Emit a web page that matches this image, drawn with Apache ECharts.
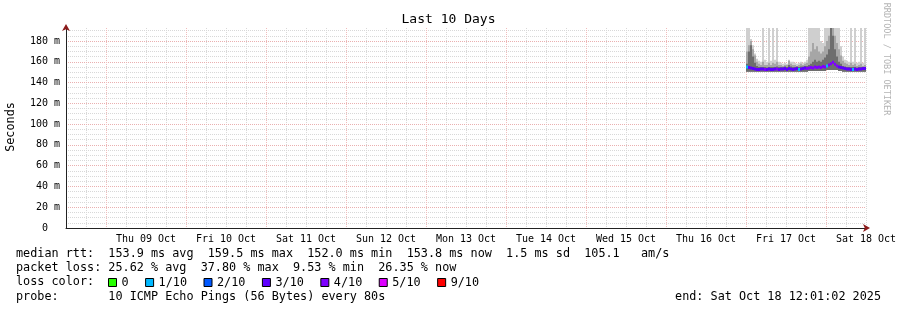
<!DOCTYPE html>
<html><head><meta charset="utf-8">
<script src="https://cdn.jsdelivr.net/npm/echarts@6/dist/echarts.min.js"></script>
<style>html,body{margin:0;padding:0;background:#fff}#c{width:897px;height:310px}</style>
</head><body><div id="c"></div>
<script>
// hours since Wed 08 Oct 12:00 (start of the 10-day window)
const hours = [204,204.6,205.2,205.8,206.4,207,207.6,208.2,208.8,209.4,210,210.6,211.2,211.8,212.4,213,213.6,214.2,214.8,215.4,216,216.6,217.2,217.8,218.4,219,219.6,220.2,220.8,221.4,222,222.6,223.2,223.8,224.4,225,225.6,226.2,226.8,227.4,228,228.6,229.2,229.8,230.4,231,231.6,232.2,232.8,233.4,234,234.6,235.2,235.8,236.4,237,237.6,238.2,238.8,239.4];
const STEP = 0.6;
// median rtt (ms)
const median = [155,154.5,154,153.5,153,152.5,152.5,153,153,152.5,152.5,153,152.5,152.5,153,153,152.5,153,153,153.5,152.5,153.5,153,152.5,153,153.5,152.5,153,153.5,154,153.5,154,154.5,154,155,154.5,155,154.5,155.5,155,156,157,158,159.5,157.5,156,155,154.5,154,153.5,153,153,152.5,152.5,153,152.5,153,153,153.5,153.5];
// packet loss (%)
const lossPct = [10,30,30,25,30,30,25,30,30,35,30,30,25,30,30,35,25,30,30,25,30,30,30,25,30,30,10,30,25,30,35,40,35,40,40,35,40,35,40,40,10,40,35,40,40,35,30,30,30,25,30,30,30,10,30,30,30,25,30,30];
// smoke (ms): bottom, dark top, medium top, light top (values above the axis are clipped)
const smokeMin = [150.5,150.5,150.5,150.5,150.5,150.5,150.5,150.5,150.5,150.5,150.5,150.5,150.5,150.5,150.5,150.5,150.5,150.5,150.5,150.5,150.5,150.5,150.5,150.5,150.5,150.5,150.5,150.5,150.5,150.5,150.5,151,151,151,151,151,151,151,151,151,152,152,152,152,152,152,151,151,150.5,150.5,150.5,150.5,150.5,150.5,150.5,150.5,150.5,150.5,150.5,150.5];
const smokeDark = [158,170,176,165,159,156,155,155,155,155,154.5,155,155,155,155,155.5,155,155,155,155.5,155,157,155.5,155,155,155.5,155,155.5,155.5,156,156,157,158,160,162,160,161,160,162,164,167,172,195,185,172,165,160,158,156,155.5,155,155,155,155,155,154.5,155,155,155,155];
const smokeMid = [170,176,180,172,166,160,158,157,160,157,157,159,157,159,158,160,157,157,156,157,157,161,158,157,157,156,157,158,157,158,159,165,170,178,172,175,170,168,170,175,180,185,192,195,185,178,172,166,161,159,158,157,159,157,158,156,157,158,156,157];
const smokeMax = [260,260,182,176,168,163,161,160,260,162,160,260,161,260,162,260,160,159,158,159,158,162,160,160,159,158,159,160,159,160,162,260,260,260,260,260,260,180,178,260,260,260,260,260,260,260,260,175,165,162,161,160,260,160,260,159,160,260,159,260];

const lossClasses = ['0','1/10','2/10','3/10','4/10','5/10','9/10'];
const lossUpper = [0,1,2,3,4,5,10];
const lossColors = ['#26ff00','#00b8ff','#0059ff','#5e00ff','#7e00ff','#dd00ff','#ff0000'];

const dayLabels = ['Thu 09 Oct','Fri 10 Oct','Sat 11 Oct','Sun 12 Oct','Mon 13 Oct','Tue 14 Oct','Wed 15 Oct','Thu 16 Oct','Fri 17 Oct','Sat 18 Oct'];
const dayLabelHours = [24,48,72,96,120,144,168,192,216,240];
const midnightHours = [12,36,60,84,108,132,156,180,204,228];

const statLine1 = 'median rtt:  153.9 ms avg  159.5 ms max  152.0 ms min  153.8 ms now  1.5 ms sd  105.1   am/s';
const statLine2 = 'packet loss: 25.62 % avg  37.80 % max  9.53 % min  26.35 % now';
const statLine3 = 'loss color:';
const statLine4 = 'probe:       10 ICMP Echo Pings (56 Bytes) every 80s';
const endText = 'end: Sat Oct 18 12:01:02 2025';

const MONO = '"DejaVu Sans Mono", monospace';

function classOf(p){
  const c = p/10;
  for (let k=0;k<lossUpper.length;k++) if (c <= lossUpper[k] + 1e-9) return k;
  return lossUpper.length-1;
}

function band(lo, hi, color){
  return {
    type:'custom', xAxisIndex:1, yAxisIndex:1, silent:true, clip:true,
    data: hours.map((h,i)=>[h, lo[i], hi[i]]),
    encode:{x:0, y:[1,2]},
    renderItem(params, api){
      const cs = params.coordSys;
      const a = api.coord([api.value(0), api.value(1)]);
      const b = api.coord([api.value(0)+STEP, api.value(2)]);
      const top = Math.max(b[1], cs.y);
      const right = Math.min(b[0], cs.x + cs.width);
      return {type:'rect', shape:{x:a[0], y:top, width:right-a[0], height:a[1]-top}, style:{fill:color}};
    }
  };
}

const medianSeries = lossClasses.map((name,k)=>({
  type:'custom', name, xAxisIndex:1, yAxisIndex:1, silent:true, clip:true,
  itemStyle:{color:lossColors[k]},
  data: hours.map((h,i)=> classOf(lossPct[i])===k ? [h, median[i]] : null).filter(d=>d),
  encode:{x:0, y:1},
  renderItem(params, api){
    const cs = params.coordSys;
    const a = api.coord([api.value(0), api.value(1)]);
    const b = api.coord([api.value(0)+STEP, api.value(1)]);
    const right = Math.min(b[0], cs.x + cs.width);
    return {type:'rect', shape:{x:a[0], y:a[1]-1.5, width:right-a[0], height:3}, style:{fill:lossColors[k]}};
  }
}));

const chart = echarts.init(document.getElementById('c'), null, {renderer:'canvas'});
chart.setOption({
  animation:false,
  backgroundColor:'#ffffff',
  textStyle:{fontFamily:MONO},
  title:{text:'Last 10 Days', left:'center', top:13.5, padding:0,
    textStyle:{fontFamily:MONO, fontSize:13, fontWeight:'normal', color:'#000'}},
  grid:{left:66, top:28, width:800, height:200, outerBoundsMode:'none', containLabel:false},
  legend:{data:lossClasses, left:108, top:276.5, padding:0, icon:'rect', itemWidth:8, itemHeight:8, itemGap:16.5,
    selectedMode:false, textStyle:{fontFamily:MONO, fontSize:11.8, color:'#000'},
    itemStyle:{borderColor:'#000', borderWidth:1}},
  xAxis:[
    {type:'value', min:0, max:240, interval:6, position:'bottom', z:0,
      axisLine:{show:false}, axisTick:{show:false}, axisLabel:{show:false},
      splitLine:{show:true, lineStyle:{color:'#d8d8d8', type:[1,1], width:1}}},
    {type:'value', min:0, max:240, position:'bottom', z:1,
      axisLine:{show:true, lineStyle:{color:'#222', width:1}},
      axisTick:{show:false, customValues:midnightHours},
      axisLabel:{show:true, customValues:dayLabelHours, showMaxLabel:true, showMinLabel:true,
        formatter:v=>dayLabels[dayLabelHours.indexOf(v)], fontFamily:MONO, fontSize:10, color:'#000', margin:6},
      splitLine:{show:true, lineStyle:{color:'#efbcbc', type:[1,1], width:1}}},
    {type:'value', min:0, max:240, position:'bottom', z:3,
      axisLine:{show:true, symbol:['none','arrow'], symbolSize:[6,7], symbolOffset:[0,4], lineStyle:{color:'#8b1a1a', width:0}},
      axisTick:{show:false}, axisLabel:{show:false}, splitLine:{show:false}}
  ],
  yAxis:[
    {type:'value', min:0, max:192.5, interval:5, position:'left', z:0,
      axisLine:{show:false}, axisTick:{show:false}, axisLabel:{show:false},
      splitLine:{show:true, showMinLine:false, showMaxLine:false, lineStyle:{color:'#d8d8d8', type:[1,1], width:1}}},
    {type:'value', min:0, max:192.5, interval:20, position:'left', z:1,
      axisLine:{show:true, lineStyle:{color:'#222', width:1}},
      axisTick:{show:false},
      axisLabel:{show:true, showMaxLabel:false, formatter:v=> v===0 ? '0  ' : v + ' m', fontFamily:MONO, fontSize:10, color:'#000', margin:6},
      splitLine:{show:true, showMinLine:false, showMaxLine:false, lineStyle:{color:'#eab0b0', type:[1,1], width:1}}},
    {type:'value', min:0, max:192.5, position:'left', z:3,
      axisLine:{show:true, symbol:['none','arrow'], symbolSize:[6,7], symbolOffset:[0,4], lineStyle:{color:'#8b1a1a', width:0}},
      axisTick:{show:false}, axisLabel:{show:false}, splitLine:{show:false}}
  ],
  graphic:[
    {type:'text', x:11, y:127, rotation:Math.PI/2, style:{text:'Seconds', font:'11.8px '+MONO, fill:'#000', align:'center', verticalAlign:'middle'}},
    {type:'text', x:886, y:59, rotation:-Math.PI/2, style:{text:'RRDTOOL / TOBI OETIKER', font:'8.5px '+MONO, fill:'#b4b4b4', align:'center', verticalAlign:'middle'}},
    {type:'text', x:16, y:254, style:{text:statLine1, font:'11.8px '+MONO, fill:'#000', verticalAlign:'middle'}},
    {type:'text', x:16, y:268, style:{text:statLine2, font:'11.8px '+MONO, fill:'#000', verticalAlign:'middle'}},
    {type:'text', x:16, y:282, style:{text:statLine3, font:'11.8px '+MONO, fill:'#000', verticalAlign:'middle'}},
    {type:'text', x:16, y:296.5, style:{text:statLine4, font:'11.8px '+MONO, fill:'#000', verticalAlign:'middle'}},
    {type:'text', x:881, y:296.5, style:{text:endText, font:'11.8px '+MONO, fill:'#000', align:'right', verticalAlign:'middle'}}
  ],
  series:[
    band(smokeMin, smokeMax, '#cfcfcf'),
    band(smokeMin, smokeMid, '#a6a6a6'),
    band(smokeMin, smokeDark, '#6e6e6e'),
    ...medianSeries
  ]
});
</script>
</body></html>
